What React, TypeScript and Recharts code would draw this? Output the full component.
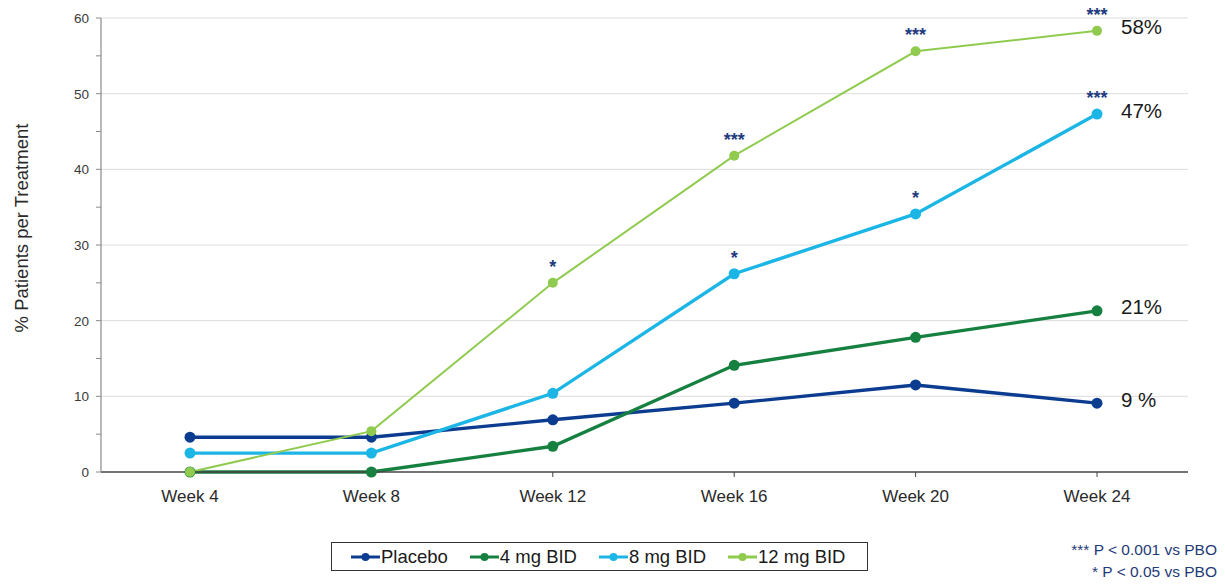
import { LineChart, Line, XAxis, YAxis, CartesianGrid, LabelList } from "recharts";

const weeks = ["Week 4", "Week 8", "Week 12", "Week 16", "Week 20", "Week 24"];
const placebo = [4.6, 4.6, 6.9, 9.1, 11.5, 9.1];
const mg4 = [0, 0, 3.4, 14.1, 17.8, 21.3];
const mg8 = [2.5, 2.5, 10.4, 26.2, 34.1, 47.3];
const mg12 = [0, 5.4, 25.0, 41.8, 55.6, 58.3];

// significance marks vs placebo
const sig8 = ["", "", "", "*", "*", "***"];
const sig12 = ["", "", "*", "***", "***", "***"];

const yTicks = [0, 5, 10, 15, 20, 25, 30, 35, 40, 45, 50, 55, 60];
const gridValues = [10, 20, 30, 40, 50, 60];

const series = [
  { key: "placebo", name: "Placebo", color: "#0c3c90", width: 3.4, r: 5.5, end: "9 %", values: placebo },
  { key: "mg4", name: "4 mg BID", color: "#168040", width: 3.4, r: 5.5, end: "21%", values: mg4 },
  { key: "mg8", name: "8 mg BID", color: "#1cb6e6", width: 3.4, r: 5.5, end: "47%", values: mg8 },
  { key: "mg12", name: "12 mg BID", color: "#90cb50", width: 2, r: 5, end: "58%", values: mg12 },
];

const data = weeks.map((week, i) => {
  const row: Record<string, string | number> = { week, sig8: sig8[i], sig12: sig12[i] };
  series.forEach((s) => {
    row[s.key] = s.values[i];
    row[s.key + "End"] = i === weeks.length - 1 ? s.end : "";
  });
  return row;
});

const FONT = "'Liberation Sans', Arial, sans-serif";

const StarLabel = (props: any) => {
  const { x, y, value } = props;
  if (!value) return null;
  return (
    <text x={x} y={y - 10} textAnchor="middle" fontSize={18} fontWeight="bold" fill="#1f3c80" fontFamily={FONT}>
      {value}
    </text>
  );
};

const EndLabel = (props: any) => {
  const { x, y, value } = props;
  if (!value) return null;
  return (
    <text x={x + 24} y={y - 4} dominantBaseline="central" fontSize={20.5} fill="#1a1a1a" fontFamily={FONT}>
      {value}
    </text>
  );
};

const YTick = (props: any) => {
  const { x, y, payload } = props;
  if (payload.value % 10 !== 0) return <g />;
  return (
    <text x={x} y={y} dy={5} textAnchor="end" fontSize={13.5} fill="#3a3a3a" fontFamily={FONT}>
      {payload.value}
    </text>
  );
};

export default function App() {
  return (
    <div style={{ position: "absolute", left: 0, top: 0, width: 1225, height: 585, background: "#fff", fontFamily: FONT }}>
      <LineChart width={1225} height={585} data={data} margin={{ top: 18, right: 37, left: 1, bottom: 83 }}>
        <CartesianGrid horizontal vertical={false} horizontalValues={gridValues} stroke="#dcdcdc" />
        <XAxis
          dataKey="week"
          height={30}
          padding={{ left: 89, right: 91 }}
          axisLine={{ stroke: "#444", strokeWidth: 1.5 }}
          tickLine={{ stroke: "#444" }}
          tickSize={5}
          tickMargin={13}
          tick={{ fontSize: 17, fill: "#2a2a2a", fontFamily: FONT }}
        />
        <YAxis
          width={100}
          domain={[0, 60]}
          ticks={yTicks}
          interval={0}
          axisLine={{ stroke: "#8a8a8a", strokeWidth: 1.2 }}
          tickLine={{ stroke: "#8a8a8a" }}
          tickSize={5}
          tickMargin={7}
          tick={<YTick />}
          label={{
            value: "% Patients per Treatment",
            content: () => (
              <text
                x={21}
                y={228}
                transform="rotate(-90, 21, 228)"
                textAnchor="middle"
                dominantBaseline="central"
                fontSize={18.5}
                fill="#2a2a2a"
                fontFamily={FONT}
              >
                % Patients per Treatment
              </text>
            ),
          }}
        />
        {series.map((s) => (
          <Line
            key={s.key}
            dataKey={s.key}
            name={s.name}
            stroke={s.color}
            strokeWidth={s.width}
            dot={{ r: s.r, fill: s.color, stroke: s.color, strokeWidth: 0 }}
            activeDot={false}
            isAnimationActive={false}
          >
            {s.key === "mg8" && <LabelList dataKey="sig8" content={StarLabel} />}
            {s.key === "mg12" && <LabelList dataKey="sig12" content={StarLabel} />}
            <LabelList dataKey={s.key + "End"} content={EndLabel} />
          </Line>
        ))}
      </LineChart>

      {/* legend box */}
      <div
        style={{
          position: "absolute",
          left: 331,
          top: 542,
          width: 537,
          height: 29,
          boxSizing: "border-box",
          border: "1.5px solid #333",
          display: "flex",
          alignItems: "center",
          paddingLeft: 19,
          fontSize: 18.5,
          color: "#1a1a1a",
          whiteSpace: "nowrap",
          overflow: "hidden",
        }}
      >
        {series.map((s) => (
          <div key={s.key} style={{ display: "flex", alignItems: "center", marginRight: 22, flexShrink: 0 }}>
            <svg width={29} height={12} style={{ flexShrink: 0 }}>
              <line x1={0} y1={6} x2={29} y2={6} stroke={s.color} strokeWidth={3} />
              <circle cx={14.5} cy={6} r={4} fill={s.color} />
            </svg>
            <span style={{ marginLeft: 1 }}>{s.name}</span>
          </div>
        ))}
      </div>

      {/* footnote */}
      <div
        style={{
          position: "absolute",
          right: 8,
          top: 539,
          textAlign: "right",
          fontSize: 15.5,
          lineHeight: "22px",
          color: "#1f3a78",
        }}
      >
        <div>*** P &lt; 0.001 vs PBO</div>
        <div>* P &lt; 0.05 vs PBO</div>
      </div>
    </div>
  );
}
